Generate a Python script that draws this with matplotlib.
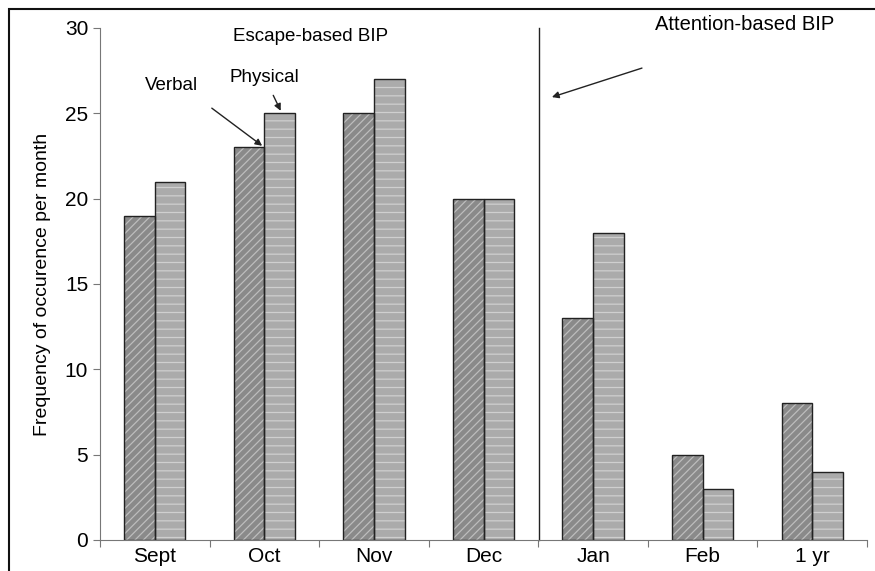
import matplotlib.pyplot as plt
import numpy as np
from matplotlib.patches import Rectangle

plt.rcParams['font.family'] = ['Liberation Sans', 'DejaVu Sans']
plt.rcParams['hatch.linewidth'] = 0.9

months = ['Sept', 'Oct', 'Nov', 'Dec', 'Jan', 'Feb', '1 yr']
verbal = [19, 23, 25, 20, 13, 5, 8]
physical = [21, 25, 27, 20, 18, 3, 4]

fig = plt.figure(figsize=(8.75, 5.71), dpi=100)
ax = fig.add_axes([0.1143, 0.0543, 0.8766, 0.8967])

x = np.arange(len(months))
w = 0.28
# fill + hatch first, then the dark outline on top
ax.bar(x - w / 2, verbal, w, color='#8a8a8a', edgecolor='#bdbdbd', linewidth=0, hatch='////')
ax.bar(x + w / 2, physical, w, color='#ababab', edgecolor='#cfcfcf', linewidth=0, hatch='--')
ax.bar(x - w / 2, verbal, w, fill=False, edgecolor='#222222', linewidth=1.0)
ax.bar(x + w / 2, physical, w, fill=False, edgecolor='#222222', linewidth=1.0)

ax.set_xlim(-0.5, len(months) - 0.5)
ax.set_ylim(0, 30)
ax.set_yticks(range(0, 31, 5))
ax.set_xticks(np.arange(-0.5, len(months), 1))
ax.set_xticklabels([])
ax.set_xticks(x, minor=True)
ax.set_xticklabels(months, minor=True)
ax.tick_params(axis='x', which='minor', length=0, pad=5, labelsize=15)
ax.tick_params(axis='x', which='major', length=5, direction='out', color='#777777')
ax.tick_params(axis='y', length=5, direction='out', labelsize=15, color='#777777')
ax.spines['top'].set_visible(False)
ax.spines['right'].set_visible(False)
ax.spines['left'].set_color('#777777')
ax.spines['bottom'].set_color('#777777')
ax.set_ylabel('Frequency of occurence per month', fontsize=14, labelpad=10)

ax.plot([3.51, 3.51], [0, 30], color='#222222', linewidth=1.0, clip_on=False)

ax.text(1.42, 29.5, 'Escape-based BIP', fontsize=13.5, ha='center', va='center')
ax.text(0.155, 26.65, 'Verbal', fontsize=13.5, ha='center', va='center')
ax.text(1.0, 27.1, 'Physical', fontsize=13.5, ha='center', va='center')
ax.text(5.38, 30.2, 'Attention-based BIP', fontsize=14.5, ha='center', va='center')

arrow = dict(arrowstyle='-|>', color='#222222', lw=1.0, mutation_scale=10)
ax.annotate('', xy=(1.0, 23.0), xytext=(0.5, 25.4), arrowprops=arrow)
ax.annotate('', xy=(1.16, 25.0), xytext=(1.07, 26.2), arrowprops=arrow)
ax.annotate('', xy=(3.6, 25.9), xytext=(4.47, 27.7), arrowprops=arrow, annotation_clip=False)

fig.patches.append(Rectangle((9 / 875, -0.05), 1.2, 1 - 9 / 571 + 0.05, transform=fig.transFigure,
                             fill=False, edgecolor='#111111', linewidth=1.5))

fig.savefig('out.png', dpi=100)
